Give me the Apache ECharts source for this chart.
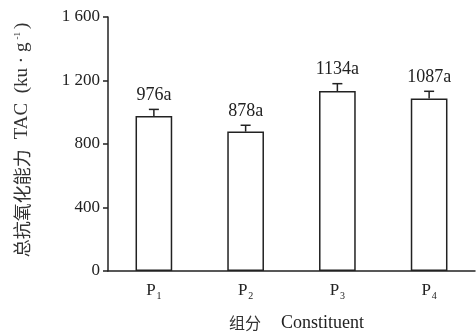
<!DOCTYPE html>
<html><head><meta charset="utf-8">
<script src="https://cdn.jsdelivr.net/npm/echarts@6/dist/echarts.min.js"></script>
<style>html,body{margin:0;padding:0;background:#fff}#c{width:476px;height:333px}</style>
</head><body><div id="c"></div>
<script>
const categories = ['P1','P2','P3','P4'];
const subscripts = ['1','2','3','4'];
const values = [976, 878, 1134, 1087];
const errors = [42, 40, 46, 45];
const letters = ['a','a','a','a'];

const serif = '"Liberation Serif","Times New Roman",serif';
const cjk = '"Noto Sans CJK SC",sans-serif';
const ink = '#222';
const chart = echarts.init(document.getElementById('c'));
chart.setOption({
  animation: false,
  grid: {left: 108, right: 1, top: 17, bottom: 62, outerBoundsMode: 'none', containLabel: false},
  xAxis: {
    type: 'category', data: categories,
    name: '{cn|组分}{en|Constituent}', nameLocation: 'middle', nameGap: 43,
    nameTextStyle: {
      rich: {
        cn: {fontFamily: cjk, fontSize: 16, color: '#333', padding: [0, 20, 0, 10]},
        en: {fontFamily: serif, fontSize: 18, color: ink}
      }
    },
    axisLine: {lineStyle: {color: ink, width: 1.5}},
    axisTick: {inside: true, length: 4, lineStyle: {color: ink, width: 1.5}},
    axisLabel: {
      margin: 9,
      formatter: (v, i) => '{m|P}{s|' + subscripts[i] + '}',
      rich: {
        m: {fontFamily: serif, fontSize: 17, color: ink},
        s: {fontFamily: serif, fontSize: 10, color: ink, padding: [11, 0, 0, 1]}
      }
    }
  },
  yAxis: {
    type: 'value', min: 0, max: 1600, interval: 400,
    name: '{cn|总抗氧化能力}{en|TAC  (ku · g}{sup|-1}{en|)}', nameLocation: 'middle', nameGap: 76, nameRotate: 90,
    nameTextStyle: {
      rich: {
        cn: {fontFamily: cjk, fontSize: 18, color: '#333', padding: [0, 10, 0, 8]},
        en: {fontFamily: serif, fontSize: 19, color: '#333'},
        sup: {fontFamily: serif, fontSize: 9, color: '#333', padding: [0, 3, 10, 3]}
      }
    },
    axisLine: {show: true, lineStyle: {color: ink, width: 1.5}},
    axisTick: {show: true, length: 5, lineStyle: {color: ink, width: 1.5}},
    splitLine: {show: false},
    axisLabel: {
      fontFamily: serif, fontSize: 17, color: ink, margin: 8,
      formatter: v => v >= 1000 ? String(v).replace(/(\d)(\d{3})$/, '$1 $2') : String(v)
    }
  },
  series: [
    {
      type: 'bar', data: values, barWidth: '40%',
      itemStyle: {color: '#fff', borderColor: ink, borderWidth: 1.5},
      z: 2
    },
    {
      type: 'custom', z: 3,
      data: values.map((v, i) => [i, v, errors[i]]),
      renderItem: (params, api) => {
        const x = api.value(0);
        const top = api.coord([x, api.value(1)]);
        const hi = api.coord([x, api.value(1) + api.value(2)]);
        const hw = 5;
        const i = params.dataIndex;
        return {
          type: 'group',
          children: [
            {type: 'line', shape: {x1: top[0], y1: top[1], x2: hi[0], y2: hi[1]}, style: {stroke: ink, lineWidth: 1.5}},
            {type: 'line', shape: {x1: hi[0] - hw, y1: hi[1], x2: hi[0] + hw, y2: hi[1]}, style: {stroke: ink, lineWidth: 1.5}},
            {type: 'text', x: hi[0], y: hi[1] - 5, style: {
              text: values[i] + letters[i], fontFamily: serif, fontSize: 18, fill: ink,
              textAlign: 'center', textVerticalAlign: 'bottom'}}
          ]
        };
      }
    }
  ]
});
</script></body></html>
